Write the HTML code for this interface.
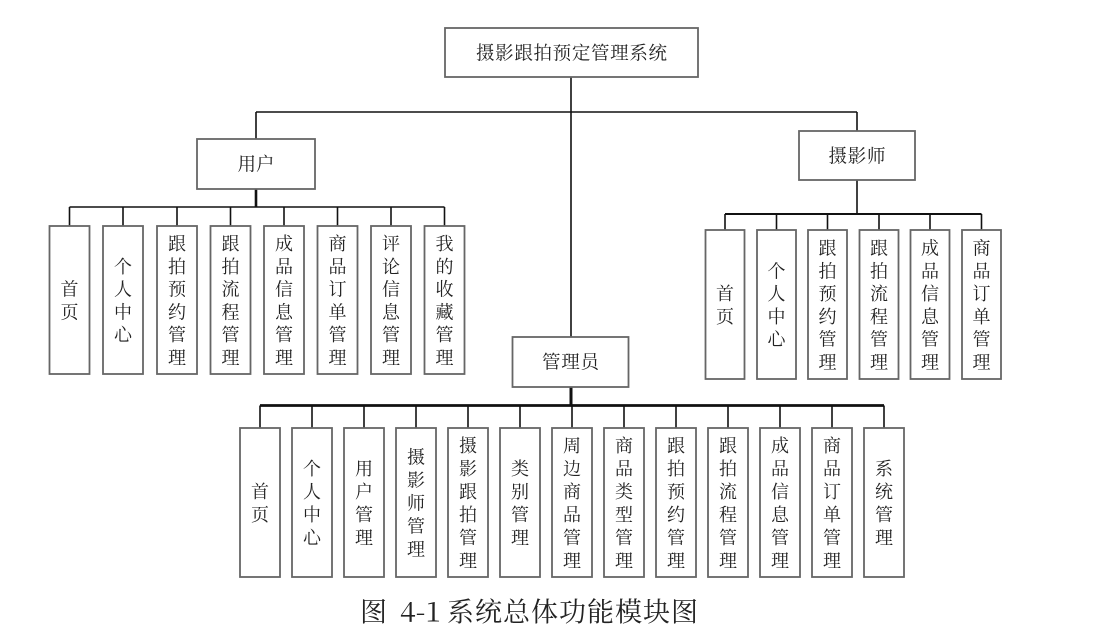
<!DOCTYPE html>
<html><head><meta charset="utf-8"><style>
html,body{margin:0;padding:0;background:#fff;}
svg{display:block;}
text{font-family:"Noto Serif CJK SC","Liberation Serif",serif;fill:#222;}
</style></head><body>
<svg width="1107" height="632" viewBox="0 0 1107 632" xmlns="http://www.w3.org/2000/svg">
<g fill="none" stroke="#111" stroke-width="1.6">
<!-- top connectors -->
<line x1="571" y1="77" x2="571" y2="337"/>
<line x1="256" y1="112" x2="857" y2="112"/>
<line x1="256" y1="112" x2="256" y2="139"/>
<line x1="857" y1="112" x2="857" y2="131"/>
<!-- user -->
<line x1="256" y1="189" x2="256" y2="207" stroke-width="2.6"/>
<line x1="69.5" y1="207" x2="444.5" y2="207"/>
<line x1="69.5" y1="207" x2="69.5" y2="226"/>
<line x1="123" y1="207" x2="123" y2="226"/>
<line x1="177" y1="207" x2="177" y2="226"/>
<line x1="230.5" y1="207" x2="230.5" y2="226"/>
<line x1="284" y1="207" x2="284" y2="226"/>
<line x1="337.5" y1="207" x2="337.5" y2="226"/>
<line x1="391" y1="207" x2="391" y2="226"/>
<line x1="444.5" y1="207" x2="444.5" y2="226"/>
<!-- photographer -->
<line x1="857" y1="180" x2="857" y2="214"/>
<line x1="725" y1="214" x2="981.5" y2="214" stroke-width="2"/>
<line x1="725" y1="214" x2="725" y2="230"/>
<line x1="776.5" y1="214" x2="776.5" y2="230"/>
<line x1="827.5" y1="214" x2="827.5" y2="230"/>
<line x1="879" y1="214" x2="879" y2="230"/>
<line x1="930" y1="214" x2="930" y2="230"/>
<line x1="981.5" y1="214" x2="981.5" y2="230"/>
<!-- admin -->
<line x1="571" y1="387" x2="571" y2="405.5" stroke-width="3"/>
<line x1="260" y1="405.5" x2="884" y2="405.5" stroke-width="2.8"/>
<line x1="260" y1="405.5" x2="260" y2="428"/>
<line x1="312" y1="405.5" x2="312" y2="428"/>
<line x1="364" y1="405.5" x2="364" y2="428"/>
<line x1="416" y1="405.5" x2="416" y2="428"/>
<line x1="468" y1="405.5" x2="468" y2="428"/>
<line x1="520" y1="405.5" x2="520" y2="428"/>
<line x1="572" y1="405.5" x2="572" y2="428"/>
<line x1="624" y1="405.5" x2="624" y2="428"/>
<line x1="676" y1="405.5" x2="676" y2="428"/>
<line x1="728" y1="405.5" x2="728" y2="428"/>
<line x1="780" y1="405.5" x2="780" y2="428"/>
<line x1="832" y1="405.5" x2="832" y2="428"/>
<line x1="884" y1="405.5" x2="884" y2="428"/>
</g>
<g fill="#fff" stroke="#666" stroke-width="1.8">
<rect x="445" y="28" width="253" height="49"/>
<rect x="197" y="139" width="118" height="50"/>
<rect x="799" y="131" width="116" height="49"/>
<rect x="512.5" y="337" width="116" height="50"/>
<!-- user children -->
<rect x="49.5" y="226" width="40" height="148"/>
<rect x="103" y="226" width="40" height="148"/>
<rect x="157" y="226" width="40" height="148"/>
<rect x="210.5" y="226" width="40" height="148"/>
<rect x="264" y="226" width="40" height="148"/>
<rect x="317.5" y="226" width="40" height="148"/>
<rect x="371" y="226" width="40" height="148"/>
<rect x="424.5" y="226" width="40" height="148"/>
<!-- photographer children -->
<rect x="705.5" y="230" width="39" height="149"/>
<rect x="757" y="230" width="39" height="149"/>
<rect x="808" y="230" width="39" height="149"/>
<rect x="859.5" y="230" width="39" height="149"/>
<rect x="910.5" y="230" width="39" height="149"/>
<rect x="962" y="230" width="39" height="149"/>
<!-- admin children -->
<rect x="240" y="428" width="40" height="149"/>
<rect x="292" y="428" width="40" height="149"/>
<rect x="344" y="428" width="40" height="149"/>
<rect x="396" y="428" width="40" height="149"/>
<rect x="448" y="428" width="40" height="149"/>
<rect x="500" y="428" width="40" height="149"/>
<rect x="552" y="428" width="40" height="149"/>
<rect x="604" y="428" width="40" height="149"/>
<rect x="656" y="428" width="40" height="149"/>
<rect x="708" y="428" width="40" height="149"/>
<rect x="760" y="428" width="40" height="149"/>
<rect x="812" y="428" width="40" height="149"/>
<rect x="864" y="428" width="40" height="149"/>
</g>
<g text-anchor="middle" dominant-baseline="central" font-size="18.5">
<text x="571.5" y="52.5" textLength="191" lengthAdjust="spacing">摄影跟拍预定管理系统</text>
<text x="256" y="163.5" textLength="37" lengthAdjust="spacing">用户</text>
<text x="857" y="155.5" textLength="57" lengthAdjust="spacing">摄影师</text>
<text x="570.5" y="361.5" textLength="57" lengthAdjust="spacing">管理员</text>
</g>
<g text-anchor="middle" dominant-baseline="central" font-size="18">
<!-- user children -->
<text x="69.5" y="288.6">首</text><text x="69.5" y="311.4">页</text>
<text x="123" y="265.8">个</text><text x="123" y="288.6">人</text><text x="123" y="311.4">中</text><text x="123" y="334.2">心</text>
<text x="177" y="243">跟</text><text x="177" y="265.8">拍</text><text x="177" y="288.6">预</text><text x="177" y="311.4">约</text><text x="177" y="334.2">管</text><text x="177" y="357">理</text>
<text x="230.5" y="243">跟</text><text x="230.5" y="265.8">拍</text><text x="230.5" y="288.6">流</text><text x="230.5" y="311.4">程</text><text x="230.5" y="334.2">管</text><text x="230.5" y="357">理</text>
<text x="284" y="243">成</text><text x="284" y="265.8">品</text><text x="284" y="288.6">信</text><text x="284" y="311.4">息</text><text x="284" y="334.2">管</text><text x="284" y="357">理</text>
<text x="337.5" y="243">商</text><text x="337.5" y="265.8">品</text><text x="337.5" y="288.6">订</text><text x="337.5" y="311.4">单</text><text x="337.5" y="334.2">管</text><text x="337.5" y="357">理</text>
<text x="391" y="243">评</text><text x="391" y="265.8">论</text><text x="391" y="288.6">信</text><text x="391" y="311.4">息</text><text x="391" y="334.2">管</text><text x="391" y="357">理</text>
<text x="444.5" y="243">我</text><text x="444.5" y="265.8">的</text><text x="444.5" y="288.6">收</text><text x="444.5" y="311.4">藏</text><text x="444.5" y="334.2">管</text><text x="444.5" y="357">理</text>
<!-- photographer children -->
<text x="725" y="293.1">首</text><text x="725" y="315.9">页</text>
<text x="776.5" y="270.3">个</text><text x="776.5" y="293.1">人</text><text x="776.5" y="315.9">中</text><text x="776.5" y="338.7">心</text>
<text x="827.5" y="247.5">跟</text><text x="827.5" y="270.3">拍</text><text x="827.5" y="293.1">预</text><text x="827.5" y="315.9">约</text><text x="827.5" y="338.7">管</text><text x="827.5" y="361.5">理</text>
<text x="879" y="247.5">跟</text><text x="879" y="270.3">拍</text><text x="879" y="293.1">流</text><text x="879" y="315.9">程</text><text x="879" y="338.7">管</text><text x="879" y="361.5">理</text>
<text x="930" y="247.5">成</text><text x="930" y="270.3">品</text><text x="930" y="293.1">信</text><text x="930" y="315.9">息</text><text x="930" y="338.7">管</text><text x="930" y="361.5">理</text>
<text x="981.5" y="247.5">商</text><text x="981.5" y="270.3">品</text><text x="981.5" y="293.1">订</text><text x="981.5" y="315.9">单</text><text x="981.5" y="338.7">管</text><text x="981.5" y="361.5">理</text>
<!-- admin children -->
<text x="260" y="491">首</text><text x="260" y="514">页</text>
<text x="312" y="468">个</text><text x="312" y="491">人</text><text x="312" y="514">中</text><text x="312" y="537">心</text>
<text x="364" y="468">用</text><text x="364" y="491">户</text><text x="364" y="514">管</text><text x="364" y="537">理</text>
<text x="416" y="456.5">摄</text><text x="416" y="479.5">影</text><text x="416" y="502.5">师</text><text x="416" y="525.5">管</text><text x="416" y="548.5">理</text>
<text x="468" y="445">摄</text><text x="468" y="468">影</text><text x="468" y="491">跟</text><text x="468" y="514">拍</text><text x="468" y="537">管</text><text x="468" y="560">理</text>
<text x="520" y="468">类</text><text x="520" y="491">别</text><text x="520" y="514">管</text><text x="520" y="537">理</text>
<text x="572" y="445">周</text><text x="572" y="468">边</text><text x="572" y="491">商</text><text x="572" y="514">品</text><text x="572" y="537">管</text><text x="572" y="560">理</text>
<text x="624" y="445">商</text><text x="624" y="468">品</text><text x="624" y="491">类</text><text x="624" y="514">型</text><text x="624" y="537">管</text><text x="624" y="560">理</text>
<text x="676" y="445">跟</text><text x="676" y="468">拍</text><text x="676" y="491">预</text><text x="676" y="514">约</text><text x="676" y="537">管</text><text x="676" y="560">理</text>
<text x="728" y="445">跟</text><text x="728" y="468">拍</text><text x="728" y="491">流</text><text x="728" y="514">程</text><text x="728" y="537">管</text><text x="728" y="560">理</text>
<text x="780" y="445">成</text><text x="780" y="468">品</text><text x="780" y="491">信</text><text x="780" y="514">息</text><text x="780" y="537">管</text><text x="780" y="560">理</text>
<text x="832" y="445">商</text><text x="832" y="468">品</text><text x="832" y="491">订</text><text x="832" y="514">单</text><text x="832" y="537">管</text><text x="832" y="560">理</text>
<text x="884" y="468">系</text><text x="884" y="491">统</text><text x="884" y="514">管</text><text x="884" y="537">理</text>
</g>
<!-- caption -->
<g dominant-baseline="central" font-size="27" fill="#111">
<text x="360" y="610">图</text>
<text x="400" y="610" font-family="Liberation Serif, serif" textLength="41" lengthAdjust="spacingAndGlyphs">4-1</text>
<text x="447" y="610" textLength="251" lengthAdjust="spacing">系统总体功能模块图</text>
</g>
</svg>
</body></html>
